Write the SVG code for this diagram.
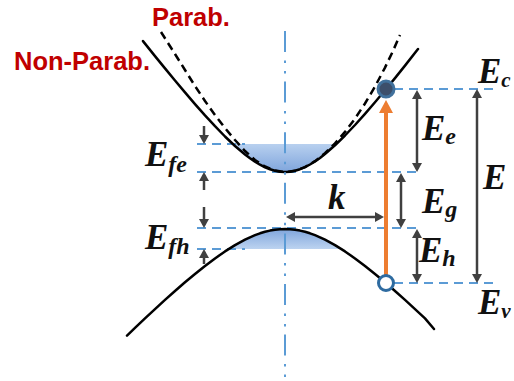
<svg xmlns="http://www.w3.org/2000/svg" width="514" height="381" viewBox="0 0 514 381">
<style>
.lvl{stroke:#5B9BD5;stroke-width:2;stroke-dasharray:9 6;fill:none}
.axis{stroke:#5B9BD5;stroke-width:2;stroke-dasharray:21 8.5 2.5 8 2.5 8.1;fill:none}
.band{stroke:#000;stroke-width:2.5;fill:none;stroke-linejoin:round;stroke-linecap:round}
.parab{stroke:#000;stroke-width:2.5;fill:none;stroke-dasharray:8 5}
.dim{stroke:#404040;stroke-width:2.5;fill:none}
.red{font-family:"Liberation Sans",Arial,sans-serif;font-weight:bold;font-size:25.5px;fill:#C00000}
.math{font-family:"Liberation Serif","Times New Roman",serif;font-weight:bold;font-style:italic;font-size:35px;fill:#111}
.sub{font-size:24px}
.subs{font-size:21px}
</style>
<defs>
<marker id="ah" markerUnits="userSpaceOnUse" markerWidth="10" markerHeight="10" refX="6" refY="5" orient="auto-start-reverse"><path d="M0,0 L9,5 L0,10 Z" fill="#404040"/></marker>
<marker id="ho" markerUnits="userSpaceOnUse" markerWidth="14" markerHeight="14" refX="9" refY="7" orient="auto"><path d="M0,0 L13,7 L0,14 Z" fill="#ED7D31"/></marker>
<linearGradient id="gc" x1="0" y1="0" x2="0" y2="1"><stop offset="0" stop-color="#B8D0EF"/><stop offset="1" stop-color="#7FA5DC"/></linearGradient>
<linearGradient id="gv" x1="0" y1="0" x2="0" y2="1"><stop offset="0" stop-color="#7FA5DC"/><stop offset="1" stop-color="#BCD3F0"/></linearGradient>
</defs>

<g id="fills">
<path d="M233,144 L235,146 L245,154.5 L250,158.3 L255,161.7 L260,164.7 L265,167.3 L270,169.3 L275,170.8 L280,171.7 L285,172 L290,171.7 L295,170.8 L300,169.2 L305,167.1 L310,164.5 L315,161.4 L320,157.9 L325,154 L335,145.3 L336.3,144 Z" fill="url(#gc)"/>
<path d="M228.8,249 L235,245.1 L245,239.7 L250,237.3 L255,235.2 L260,233.3 L265,231.8 L270,230.6 L275,229.7 L280,229.2 L285,229 L290,229.2 L295,229.7 L300,230.6 L305,231.8 L310,233.3 L315,235.2 L320,237.3 L325,239.7 L335,245.1 L341.3,249 Z" fill="url(#gv)"/>
</g>

<g id="levels">
<line class="lvl" x1="394" y1="89" x2="496" y2="89"/>
<line class="lvl" x1="197" y1="144" x2="245" y2="144"/>
<line class="lvl" x1="197" y1="172" x2="417" y2="172"/>
<line class="lvl" x1="197" y1="228" x2="417" y2="228"/>
<line class="lvl" x1="197" y1="249" x2="245" y2="249"/>
<line class="lvl" x1="394" y1="283" x2="496" y2="283"/>
</g>

<g id="bands">
<path id="cb-nonparab" class="band" d="M143,41.1 L155,56.1 L165,68.4 L175,80.5 L185,92.4 L195,104.1 L205,115.4 L215,126.2 L225,136.5 L235,146 L245,154.5 L250,158.3 L255,161.7 L260,164.7 L265,167.3 L270,169.3 L275,170.8 L280,171.7 L285,172 L290,171.7 L295,170.8 L300,169.2 L305,167.1 L310,164.5 L315,161.4 L320,157.9 L325,154 L335,145.3 L345,135.5 L355,125 L365,113.9 L375,102.3 L385,90.3 L395,78.1 L405,65.6 L418,49"/>
<path id="cb-parab" class="parab" d="M161,32 L175,54 L185,70 L195,86 L205,101 L215,115 L225,128 L235,140 L245,151 L255,160 L265,166.5 L275,170.5 L285,172 L295,170.8 L305,167.1 L315,161.2 L325,153.2 L335,143.4 L345,131.9 L355,118.6 L365,103.5 L375,86.6 L385,67.6 L393,50.9 L400,35"/>
<path id="vb" class="band" d="M127,335.6 L135,327.9 L145,318.4 L155,309.1 L165,299.9 L175,291 L185,282.3 L195,274 L205,266 L215,258.4 L225,251.4 L235,245.1 L245,239.7 L250,237.3 L255,235.2 L260,233.3 L265,231.8 L270,230.6 L275,229.7 L280,229.2 L285,229 L290,229.2 L295,229.7 L300,230.6 L305,231.8 L310,233.3 L315,235.2 L320,237.3 L325,239.7 L335,245.1 L345,251.4 L355,258.4 L365,266 L375,274 L385,282.3 L395,291 L405,299.9 L415,309.1 L425,318.4 L434,329"/>
</g>

<line id="axis" class="axis" x1="285" y1="31" x2="285" y2="381"/>

<g id="connectors">
<line class="dim" x1="204" y1="126" x2="204" y2="141" marker-end="url(#ah)"/>
<line class="dim" x1="204" y1="190" x2="204" y2="175" marker-end="url(#ah)"/>
<line class="dim" x1="204" y1="207" x2="204" y2="225" marker-end="url(#ah)"/>
<line class="dim" x1="204" y1="264" x2="204" y2="252" marker-end="url(#ah)"/>
<line class="dim" x1="417" y1="93" x2="417" y2="169" marker-start="url(#ah)" marker-end="url(#ah)"/>
<line class="dim" x1="401" y1="176" x2="401" y2="225" marker-start="url(#ah)" marker-end="url(#ah)"/>
<line class="dim" x1="417" y1="232" x2="417" y2="280" marker-start="url(#ah)" marker-end="url(#ah)"/>
<line class="dim" x1="477" y1="92" x2="477" y2="280" marker-start="url(#ah)" marker-end="url(#ah)"/>
<line class="dim" x1="289" y1="217" x2="381" y2="217" marker-start="url(#ah)" marker-end="url(#ah)"/>
<line id="transition" x1="386" y1="283" x2="386" y2="104" stroke="#ED7D31" stroke-width="4" marker-end="url(#ho)"/>
</g>

<g id="states">
<circle id="electron" cx="386" cy="89" r="8" fill="#3C4F6B" stroke="#41719C" stroke-width="3"/>
<circle id="hole" cx="386" cy="283" r="7.5" fill="#fff" stroke="#2E6BA0" stroke-width="3"/>
</g>

<g id="labels">
<text class="red" x="152" y="26">Parab.</text>
<text class="red" x="14" y="70">Non-Parab.</text>
<text class="math" x="145" y="166">E<tspan class="sub" dy="6">fe</tspan></text>
<text class="math" x="145" y="249">E<tspan class="sub" dy="5">fh</tspan></text>
<text class="math" x="478" y="83">E<tspan class="subs" dy="4">c</tspan></text>
<text class="math" x="422" y="140">E<tspan class="sub" dy="4">e</tspan></text>
<text class="math" x="422" y="213">E<tspan class="sub" dy="4">g</tspan></text>
<text class="math" x="419" y="262">E<tspan class="sub" dy="4">h</tspan></text>
<text class="math" x="483" y="189">E</text>
<text class="math" x="478" y="314">E<tspan class="subs" dy="4">v</tspan></text>
<text class="math" x="328" y="209">k</text>
</g>
</svg>
